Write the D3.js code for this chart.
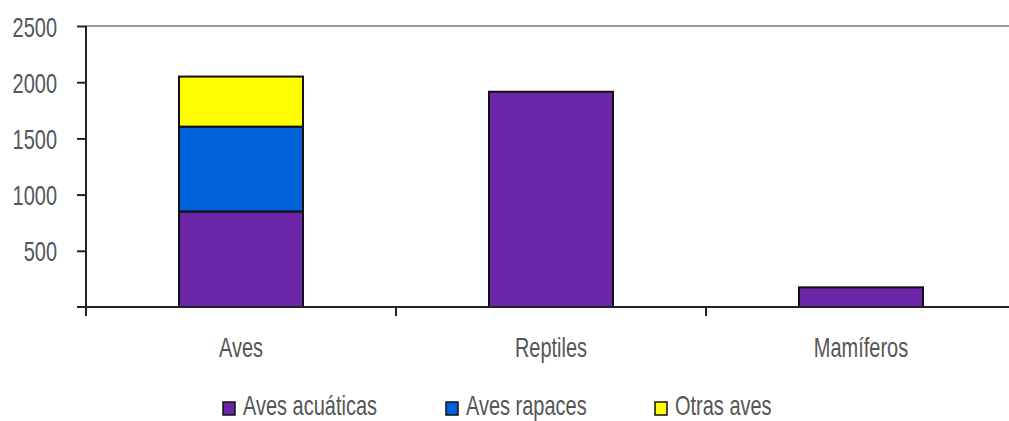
<!DOCTYPE html>
<html>
<head>
<meta charset="utf-8">
<script src="https://cdn.jsdelivr.net/npm/d3@7"></script>
<style>
  body { margin: 0; background: #fff; }
  svg { display: block; font-family: "Liberation Sans", Arial, sans-serif; }
</style>
</head>
<body>
<div id="chart"></div>
<script>
const categories = ["Aves", "Reptiles", "Mamíferos"];
const seriesNames = ["Aves acuáticas", "Aves rapaces", "Otras aves"];
const acuaticas = [850, 1915, 175];
const rapaces = [755, 0, 0];
const otras = [445, 0, 0];
const yTicks = [500, 1000, 1500, 2000, 2500];
const colors = ["#6B25A8", "#0061D9", "#FFFF00"];

const width = 1009, height = 421;
const margin = { top: 26, right: -7, bottom: 114, left: 86 };
const squeeze = 0.74; // condensed look
const fontSize = 27;
const textColor = "#555";

const rows = categories.map((c, i) => ({
    cat: c,
    "Aves acuáticas": acuaticas[i],
    "Aves rapaces": rapaces[i],
    "Otras aves": otras[i]
}));

const svg = d3.select("#chart")
    .append("svg")
    .attr("width", width)
    .attr("height", height);

// Scales
const x = d3.scaleBand()
    .domain(categories)
    .range([margin.left, width - margin.right])
    .padding(0);

const y = d3.scaleLinear()
    .domain([0, 2500])
    .range([height - margin.bottom, margin.top]);

const color = d3.scaleOrdinal()
    .domain(seriesNames)
    .range(colors);

const stacked = d3.stack().keys(seriesNames)(rows);

// condensed text helper: x is the real position
function narrowText(sel, xPos, yPos) {
    sel.attr("transform", `translate(${xPos},${yPos}) scale(${squeeze},1)`)
        .attr("x", 0)
        .attr("y", 0)
        .attr("fill", textColor)
        .attr("font-size", fontSize);
}

// Top border line
svg.append("line")
    .attr("x1", margin.left)
    .attr("x2", width)
    .attr("y1", y(2500))
    .attr("y2", y(2500))
    .attr("stroke", "#999")
    .attr("stroke-width", 2);

// Bars
const barW = x.bandwidth() * 0.4;
svg.append("g")
    .selectAll("g")
    .data(stacked)
    .join("g")
    .attr("fill", d => color(d.key))
    .selectAll("rect")
    .data(d => d.filter(p => p[1] - p[0] > 0))
    .join("rect")
    .attr("x", d => x(d.data.cat) + (x.bandwidth() - barW) / 2)
    .attr("y", d => y(d[1]))
    .attr("width", barW)
    .attr("height", d => y(d[0]) - y(d[1]))
    .attr("stroke", "#111")
    .attr("stroke-width", 2);

// Y axis
const yAxis = g => g
    .attr("transform", `translate(${margin.left},0)`)
    .call(d3.axisLeft(y).tickValues(yTicks).tickFormat(d3.format("d")).tickSize(9))
    .call(g => g.select(".domain").remove())
    .call(g => g.selectAll(".tick line").attr("stroke", "#222").attr("stroke-width", 2))
    .call(g => g.selectAll(".tick text")
        .attr("dy", null)
        .each(function() { narrowText(d3.select(this), -29, 10); }));
svg.append("g").call(yAxis);

svg.append("line")
    .attr("x1", margin.left).attr("x2", margin.left)
    .attr("y1", y(2500)).attr("y2", y(0) + 9)
    .attr("stroke", "#222").attr("stroke-width", 2);
svg.append("line")
    .attr("x1", margin.left - 9).attr("x2", margin.left)
    .attr("y1", y(0)).attr("y2", y(0))
    .attr("stroke", "#222").attr("stroke-width", 2);

// X axis
svg.append("line")
    .attr("x1", margin.left).attr("x2", width)
    .attr("y1", y(0)).attr("y2", y(0))
    .attr("stroke", "#222").attr("stroke-width", 2);

svg.append("g")
    .selectAll("line")
    .data(categories.slice(1))
    .join("line")
    .attr("x1", d => x(d)).attr("x2", d => x(d))
    .attr("y1", y(0)).attr("y2", y(0) + 9)
    .attr("stroke", "#222").attr("stroke-width", 2);

svg.append("g")
    .selectAll("text")
    .data(categories)
    .join("text")
    .attr("text-anchor", "middle")
    .text(d => d)
    .each(function(d) { narrowText(d3.select(this), x(d) + x.bandwidth() / 2, y(0) + 50); });

// Legend
const legendX = [223, 446, 655];
const legend = svg.append("g");
seriesNames.forEach((s, i) => {
    const row = legend.append("g")
        .attr("transform", `translate(${legendX[i]}, 402)`);
    row.append("rect")
        .attr("width", 12)
        .attr("height", 13)
        .attr("fill", color(s))
        .attr("stroke", "#111")
        .attr("stroke-width", 1.5);
    row.append("text")
        .text(s)
        .call(t => narrowText(t, 20, 13));
});
</script>
</body>
</html>
